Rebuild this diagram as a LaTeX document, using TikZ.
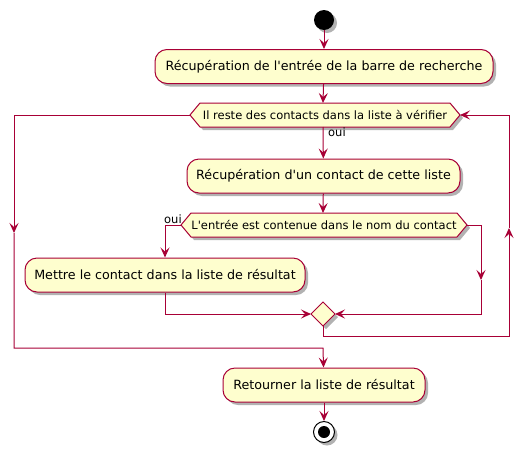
\documentclass[tikz,border=0pt]{standalone}
\usepackage{fontspec}
\setmainfont{DejaVu Sans}
\usetikzlibrary{arrows.meta,shadows}
\definecolor{pborder}{HTML}{A80036}
\definecolor{pfill}{HTML}{FEFECE}
\begin{document}
\begin{tikzpicture}[x=1pt,y=-1pt,
  shad/.style={drop shadow={shadow xshift=3pt, shadow yshift=-3pt, opacity=0.3, fill=black}},
  act/.style={draw=pborder, fill=pfill, line width=1pt, rounded corners=12pt, minimum height=34pt, inner sep=0pt, font=\fontsize{12.7}{14}\selectfont, shad},
  hexa/.style={draw=pborder, fill=pfill, line width=1pt, shad},
  htext/.style={inner sep=0pt, font=\fontsize{11.5}{13}\selectfont},
  lbl/.style={inner sep=0pt, font=\fontsize{11.5}{13}\selectfont},
  ln/.style={draw=pborder, line width=1pt},
  flow/.style={ln, -{Stealth[length=10pt,width=9pt,inset=4pt]}}
]
\useasboundingbox (0,0) rectangle (524,453);
% start
\node[circle, fill=black, minimum size=20pt, inner sep=0pt, shad] (start) at (324,20) {};
% activities
\node[act, minimum width=338pt] (b1) at (324,66.5) {Récupération de l\textquotesingle entrée de la barre de recherche};
\node[act, minimum width=273pt] (b2) at (323.5,176) {Récupération d\textquotesingle un contact de cette liste};
\node[act, minimum width=280pt] (b3) at (165,275) {Mettre le contact dans la liste de résultat};
\node[act, minimum width=202pt] (b4) at (324,385) {Retourner la liste de résultat};
% decision 1
\path[hexa] (190,115) -- (200,103) -- (450,103) -- (460,115) -- (450,127) -- (200,127) -- cycle;
\node[htext] (d1) at (325,115) {Il reste des contacts dans la liste à vérifier};
\coordinate (d1n) at (323,103);
\coordinate (d1s) at (323,127);
\coordinate (d1w) at (190,115);
\coordinate (d1e) at (460,115);
% decision 2
\path[hexa] (181,225) -- (191,213) -- (457,213) -- (467,225) -- (457,237) -- (191,237) -- cycle;
\node[htext] (d2) at (324,225) {L\textquotesingle entrée est contenue dans le nom du contact};
\coordinate (d2n) at (323,213);
\coordinate (d2w) at (181,225);
\coordinate (d2e) at (467,225);
% merge
\path[hexa] (323,302) -- (335,314) -- (323,326) -- (311,314) -- cycle;
\coordinate (mn) at (323,302);
\coordinate (me) at (335,314);
\coordinate (ms) at (323,326);
\coordinate (mw) at (311,314);
% end
\node[circle, draw=black, fill=white, line width=1pt, minimum size=21pt, inner sep=0pt, shad] (stop) at (324,432) {};
\node[circle, fill=black, minimum size=12pt, inner sep=0pt] (stopin) at (324,432) {};
% labels
\node[lbl, anchor=base west] (oui1) at (328,136) {oui};
\node[lbl, anchor=base west] (oui2) at (164,223) {oui};
% waypoints
\coordinate (la) at (14,115);
\coordinate (lb) at (14,233);
\coordinate (lc) at (14,348);
\coordinate (ld) at (323,348);
\coordinate (ra) at (509,336);
\coordinate (rb) at (509,228);
\coordinate (rc) at (509,115);
\coordinate (rm) at (323,336);
\coordinate (ya) at (165,225);
\coordinate (yb) at (165,314);
\coordinate (na) at (481,225);
\coordinate (nb) at (481,280);
\coordinate (nc) at (481,314);
% connectors
\draw[flow] (start) -- (b1);
\draw[flow] (b1) -- (d1n);
\draw[flow] (d1s) -- (b2);
\draw[flow] (b2) -- (d2n);
\draw[flow] (d2w) -- (ya) -- (b3);
\draw[flow] (d2e) -- (na) -- (nb);
\draw[flow] (nb) -- (nc) -- (me);
\draw[flow] (b3) -- (yb) -- (mw);
\draw[flow] (ms) -- (rm) -- (ra) -- (rb);
\draw[flow] (rb) -- (rc) -- (d1e);
\draw[flow] (d1w) -- (la) -- (lb);
\draw[flow] (lb) -- (lc) -- (ld) -- (b4);
\draw[flow] (b4) -- (stop);
\end{tikzpicture}
\end{document}
